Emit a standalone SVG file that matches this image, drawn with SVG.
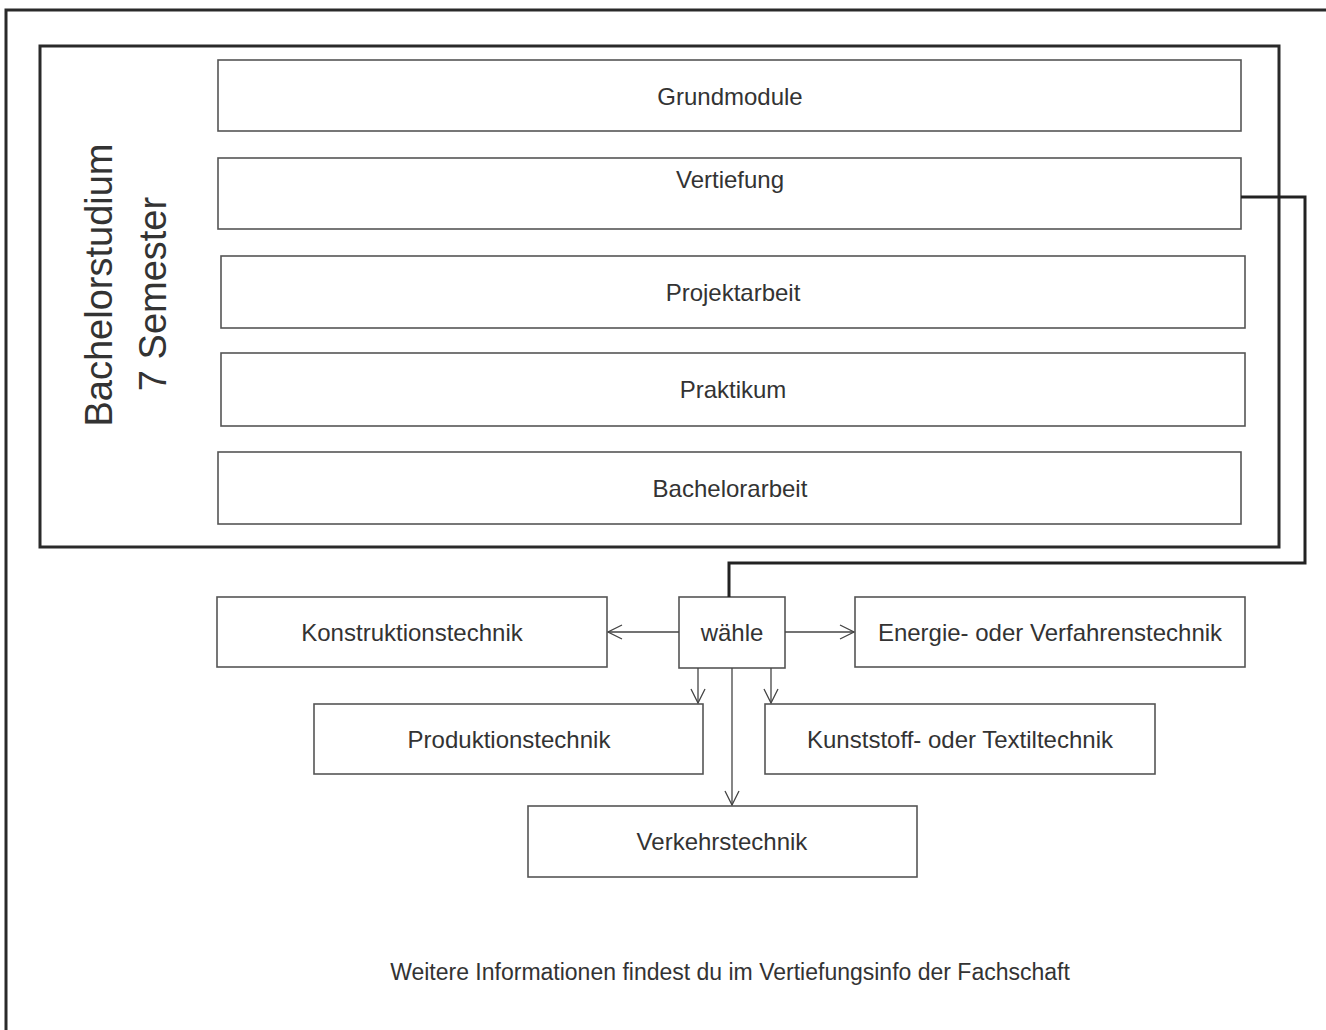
<svg xmlns="http://www.w3.org/2000/svg" width="1326" height="1030" viewBox="0 0 1326 1030">
<style>
.frame{fill:none;stroke:#2a2a2a;stroke-width:3}
.box{fill:#fff;stroke:#555;stroke-width:1.6}
.lbl{font-family:"Liberation Sans",Arial,sans-serif;font-size:24px;fill:#333;text-anchor:middle}
.big{font-family:"Liberation Sans",Arial,sans-serif;font-size:38px;fill:#333;text-anchor:middle}
.edge{fill:none;stroke:#444;stroke-width:1.3}
.thick{fill:none;stroke:#222;stroke-width:3}
</style>
<defs>
<marker id="open" viewBox="0 0 16 16" refX="15" refY="8" markerWidth="16" markerHeight="16" markerUnits="userSpaceOnUse" orient="auto">
<path d="M1,1 L15,8 L1,15" fill="none" stroke="#444" stroke-width="1.3"/>
</marker>
</defs>
<rect width="1326" height="1030" fill="#fff"/>
<path class="frame" d="M6,1032 V10 H1330"/>
<g id="bachelor">
<rect class="frame" x="40" y="46" width="1239" height="501"/>
<text class="big" transform="translate(112,285) rotate(-90)">Bachelorstudium</text>
<text class="big" transform="translate(166,294) rotate(-90)">7 Semester</text>
</g>
<g id="grundmodule"><rect class="box" x="218" y="60" width="1023" height="71"/><text class="lbl" x="730" y="105">Grundmodule</text></g>
<g id="vertiefung"><rect class="box" x="218" y="158" width="1023" height="71"/><text class="lbl" x="730" y="188">Vertiefung</text></g>
<g id="projektarbeit"><rect class="box" x="221" y="256" width="1024" height="72"/><text class="lbl" x="733" y="301">Projektarbeit</text></g>
<g id="praktikum"><rect class="box" x="221" y="353" width="1024" height="73"/><text class="lbl" x="733" y="398">Praktikum</text></g>
<g id="bachelorarbeit"><rect class="box" x="218" y="452" width="1023" height="72"/><text class="lbl" x="730" y="497">Bachelorarbeit</text></g>
<g id="waehle"><rect class="box" x="679" y="597" width="106" height="71"/><text class="lbl" x="732" y="641">wähle</text></g>
<g id="konstruktion"><rect class="box" x="217" y="597" width="390" height="70"/><text class="lbl" x="412" y="641">Konstruktionstechnik</text></g>
<g id="energie"><rect class="box" x="855" y="597" width="390" height="70"/><text class="lbl" x="1050" y="641">Energie- oder Verfahrenstechnik</text></g>
<g id="produktion"><rect class="box" x="314" y="704" width="389" height="70"/><text class="lbl" x="509" y="748">Produktionstechnik</text></g>
<g id="kunststoff"><rect class="box" x="765" y="704" width="390" height="70"/><text class="lbl" x="960" y="748">Kunststoff- oder Textiltechnik</text></g>
<g id="verkehr"><rect class="box" x="528" y="806" width="389" height="71"/><text class="lbl" x="722" y="850">Verkehrstechnik</text></g>
<g id="connectors">
<path class="thick" d="M1241,197 H1305 V563 H729 V597"/>
<path class="edge" d="M679,632 H608" marker-end="url(#open)"/>
<path class="edge" d="M785,632 H854" marker-end="url(#open)"/>
<path class="edge" d="M698,668 V703" marker-end="url(#open)"/>
<path class="edge" d="M771,668 V703" marker-end="url(#open)"/>
<path class="edge" d="M732,668 V805" marker-end="url(#open)"/>
</g>
<text class="lbl" x="730" y="980" style="font-size:23px">Weitere Informationen findest du im Vertiefungsinfo der Fachschaft</text>
</svg>
